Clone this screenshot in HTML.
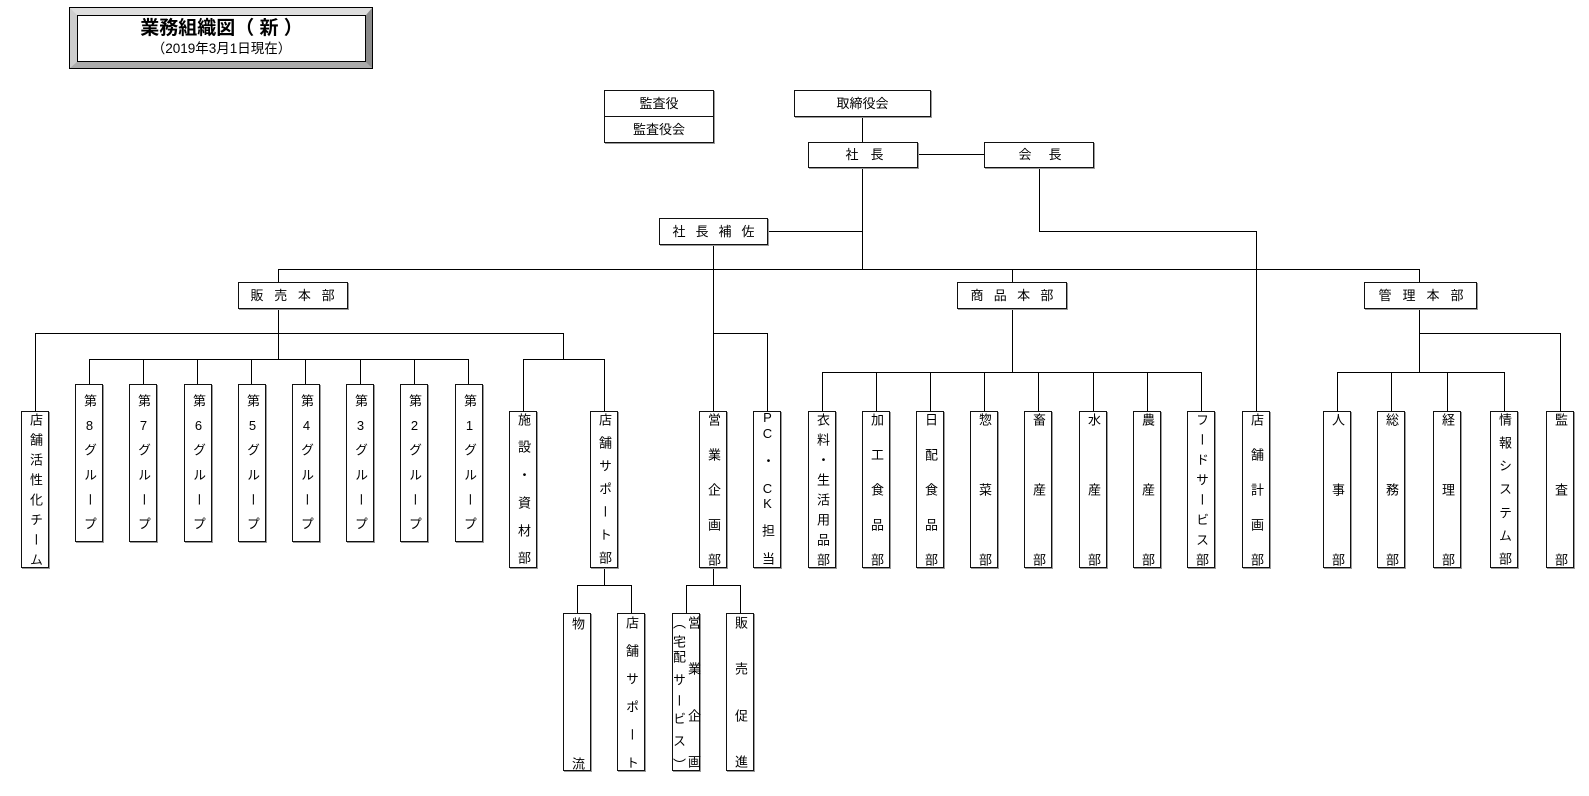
<!DOCTYPE html>
<html lang="ja">
<head>
<meta charset="utf-8">
<style>
html,body{margin:0;padding:0;background:#fff;}
body{width:1589px;height:796px;position:relative;overflow:hidden;font-family:"Liberation Sans","Noto Sans CJK JP",sans-serif;color:#000;}
svg.lines{position:absolute;left:0;top:0;}
.b{position:absolute;box-sizing:border-box;border:1px solid #111;background:#fff;box-shadow:1px 1px 0 #9a9a9a;font-size:13px;white-space:nowrap;}
.h{text-align:left;}
.c{text-align:center;}
.v{display:flex;flex-direction:column;justify-content:space-between;align-items:center;width:28px;}
.v i,.a i{display:block;font-style:normal;writing-mode:vertical-rl;text-orientation:upright;width:14px;height:14px;line-height:14px;text-align:center;font-size:13px;}
.a i{position:absolute;margin-left:-7px;}
.r1{top:411px;height:157px;padding:0 0 1px 0;}
.rg{top:384px;height:158px;padding:8px 0 10px 0;}
.rb{top:613px;height:158px;}
#title{position:absolute;left:69px;top:7px;width:304px;height:62px;box-sizing:border-box;border:1px solid #000;}
#bevel{position:absolute;left:0;top:0;right:0;bottom:0;border-style:solid;border-width:7px 6px 6px 7px;border-color:#dedede #8a8a8a #ababab #cdcdcd;}
#inner{position:absolute;left:0;top:0;right:0;bottom:0;border:1px solid #000;background:#fff;text-align:center;}
#t1{position:absolute;left:0;right:0;top:1px;font-size:19px;font-weight:bold;line-height:24px;}
#t2{position:absolute;left:0;right:0;top:24px;font-size:13.5px;line-height:17px;}
</style>
</head>
<body>
<svg class="lines" width="1589" height="796" viewBox="0 0 1589 796" shape-rendering="crispEdges">
<path fill="none" stroke="#000" stroke-width="1" d="
M862.5 116V142
M917 154.5H984
M862.5 167V269
M767 231.5H862.5
M1039.5 167V231.5H1256.5V411
M278 269.5H1419.5
M713.5 244V411
M713.5 333.5H767.5V411
M278.5 269V282
M278.5 308V359.5
M35.5 411V333.5H563.5V359.5
M89 359.5H468.5
M89.5 359V384 M143.5 359V384 M197.5 359V384 M251.5 359V384 M305.5 359V384 M360.5 359V384 M414.5 359V384 M468.5 359V384
M523.5 411V359.5H604.5V411
M1012.5 269V282 M1012.5 308V372
M822 372.5H1201.5
M822.5 372V411 M876.5 372V411 M930.5 372V411 M984.5 372V411 M1038.5 372V411 M1093.5 372V411 M1147.5 372V411 M1201.5 372V411
M1419.5 269V282 M1419.5 308V372
M1419.5 333.5H1560.5V411
M1337 372.5H1504.5
M1337.5 372V411 M1391.5 372V411 M1447.5 372V411 M1504.5 372V411
M604.5 567V585.5 M577.5 613V585.5H631.5V613
M713.5 567V585.5 M686.5 613V585.5H740.5V613
"/>
</svg>

<div id="title"><div id="bevel"><div id="inner"><div id="t1">業務組織図（ 新 ）</div><div id="t2">（2019年3月1日現在）</div></div></div></div>

<!-- top boxes -->
<div class="b c" style="left:604px;top:90px;width:110px;height:53px;">
  <div style="height:25px;line-height:25px;border-bottom:1px solid #111;">監査役</div>
  <div style="height:25px;line-height:25px;">監査役会</div>
</div>
<div class="b c" style="left:794px;top:90px;width:137px;height:27px;line-height:25px;">取締役会</div>
<div class="b h" style="left:808px;top:142px;width:110px;height:26px;line-height:24px;padding-left:36.5px;letter-spacing:12px;">社長</div>
<div class="b h" style="left:984px;top:142px;width:110px;height:26px;line-height:24px;padding-left:33.5px;letter-spacing:17px;">会長</div>
<div class="b h" style="left:659px;top:218px;width:109px;height:27px;line-height:25px;padding-left:12.5px;letter-spacing:10px;">社長補佐</div>
<div class="b h" style="left:238px;top:282px;width:110px;height:27px;line-height:25px;padding-left:11.5px;letter-spacing:10.7px;">販売本部</div>
<div class="b h" style="left:957px;top:282px;width:110px;height:27px;line-height:25px;padding-left:12.5px;letter-spacing:10.3px;">商品本部</div>
<div class="b h" style="left:1364px;top:282px;width:113px;height:27px;line-height:25px;padding-left:13.5px;letter-spacing:11px;">管理本部</div>

<!-- group boxes -->
<div class="b v rg" style="left:75px;"><i>第</i><i>8</i><i>グ</i><i>ル</i><i>ー</i><i>プ</i></div>
<div class="b v rg" style="left:129px;"><i>第</i><i>7</i><i>グ</i><i>ル</i><i>ー</i><i>プ</i></div>
<div class="b v rg" style="left:184px;"><i>第</i><i>6</i><i>グ</i><i>ル</i><i>ー</i><i>プ</i></div>
<div class="b v rg" style="left:238px;"><i>第</i><i>5</i><i>グ</i><i>ル</i><i>ー</i><i>プ</i></div>
<div class="b v rg" style="left:292px;"><i>第</i><i>4</i><i>グ</i><i>ル</i><i>ー</i><i>プ</i></div>
<div class="b v rg" style="left:346px;"><i>第</i><i>3</i><i>グ</i><i>ル</i><i>ー</i><i>プ</i></div>
<div class="b v rg" style="left:400px;"><i>第</i><i>2</i><i>グ</i><i>ル</i><i>ー</i><i>プ</i></div>
<div class="b v rg" style="left:455px;"><i>第</i><i>1</i><i>グ</i><i>ル</i><i>ー</i><i>プ</i></div>

<!-- row 411 -->
<div class="b v r1" style="left:21px;padding-bottom:0;"><i>店</i><i>舗</i><i>活</i><i>性</i><i>化</i><i>チ</i><i>ー</i><i>ム</i></div>
<div class="b v r1" style="left:509px;padding-bottom:2px;"><i>施</i><i>設</i><i>・</i><i>資</i><i>材</i><i>部</i></div>
<div class="b v r1" style="left:590px;padding-bottom:2px;"><i>店</i><i>舗</i><i>サ</i><i>ポ</i><i>ー</i><i>ト</i><i>部</i></div>
<div class="b v r1" style="left:699px;"><i>営</i><i>業</i><i>企</i><i>画</i><i>部</i></div>
<div class="b a" style="left:753px;top:411px;width:28px;height:157px;">
  <i style="left:13px;top:-2px;">P</i><i style="left:13px;top:14px;">C</i><i style="left:13px;top:41px;">・</i><i style="left:13px;top:69px;">C</i><i style="left:13px;top:84px;">K</i><i style="left:13px;top:111px;">担</i><i style="left:13px;top:139px;">当</i>
</div>
<div class="b v r1" style="left:808px;"><i>衣</i><i>料</i><i>・</i><i>生</i><i>活</i><i>用</i><i>品</i><i>部</i></div>
<div class="b v r1" style="left:862px;"><i>加</i><i>工</i><i>食</i><i>品</i><i>部</i></div>
<div class="b v r1" style="left:916px;"><i>日</i><i>配</i><i>食</i><i>品</i><i>部</i></div>
<div class="b v r1" style="left:970px;"><i>惣</i><i>菜</i><i>部</i></div>
<div class="b v r1" style="left:1024px;"><i>畜</i><i>産</i><i>部</i></div>
<div class="b v r1" style="left:1079px;"><i>水</i><i>産</i><i>部</i></div>
<div class="b v r1" style="left:1133px;"><i>農</i><i>産</i><i>部</i></div>
<div class="b v r1" style="left:1187px;"><i>フ</i><i>ー</i><i>ド</i><i>サ</i><i>ー</i><i>ビ</i><i>ス</i><i>部</i></div>
<div class="b v r1" style="left:1242px;"><i>店</i><i>舗</i><i>計</i><i>画</i><i>部</i></div>
<div class="b v r1" style="left:1323px;"><i>人</i><i>事</i><i>部</i></div>
<div class="b v r1" style="left:1377px;"><i>総</i><i>務</i><i>部</i></div>
<div class="b v r1" style="left:1433px;"><i>経</i><i>理</i><i>部</i></div>
<div class="b v r1" style="left:1490px;"><i>情</i><i>報</i><i>シ</i><i>ス</i><i>テ</i><i>ム</i><i>部</i></div>
<div class="b v r1" style="left:1546px;"><i>監</i><i>査</i><i>部</i></div>

<!-- bottom row -->
<div class="b v rb" style="left:563px;padding:2px 0 0 0;"><i>物</i><i>流</i></div>
<div class="b v rb" style="left:617px;padding:1px 0 1px 0;"><i>店</i><i>舗</i><i>サ</i><i>ポ</i><i>ー</i><i>ト</i></div>
<div class="b a" style="left:672px;top:613px;width:28px;height:158px;">
  <i style="left:20px;top:1px;">営</i><i style="left:20px;top:47px;">業</i><i style="left:20px;top:94px;">企</i><i style="left:20px;top:140px;">画</i>
  <i style="left:5px;top:1px;">（</i><i style="left:5px;top:20px;">宅</i><i style="left:5px;top:35px;">配</i><i style="left:5px;top:58px;">サ</i><i style="left:5px;top:79px;">ー</i><i style="left:5px;top:97px;">ビ</i><i style="left:5px;top:119px;">ス</i><i style="left:5px;top:143px;">）</i>
</div>
<div class="b v rb" style="left:726px;padding:1px 0 1px 0;"><i>販</i><i>売</i><i>促</i><i>進</i></div>

</body>
</html>
